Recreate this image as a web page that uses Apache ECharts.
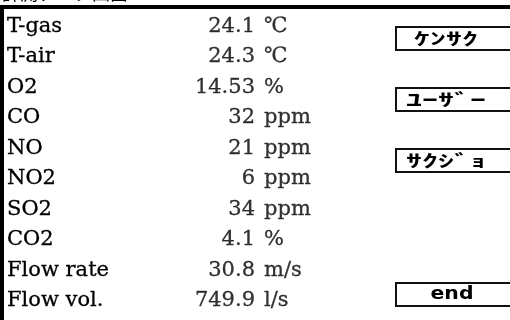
<!DOCTYPE html>
<html>
<head>
<meta charset="utf-8">
<script src="https://cdn.jsdelivr.net/npm/echarts@6/dist/echarts.min.js"></script>
<style>html,body{margin:0;padding:0;background:#fff;}#c{width:510px;height:320px;}</style>
</head>
<body>
<div id="c"></div>
<script>
const title = '計測データ画面';
const labels = ['T-gas','T-air','O2','CO','NO','NO2','SO2','CO2','Flow rate','Flow vol.'];
const values = [24.1, 24.3, 14.53, 32, 21, 6, 34, 4.1, 30.8, 749.9];
const units = ['℃','℃','%','ppm','ppm','ppm','ppm','%','m/s','l/s'];
const buttons = ['ｹﾝｻｸ','ﾕｰｻﾞｰ','ｻｸｼﾞｮ','end'];
const buttonY = [27, 88, 149, 283];

const serif = 'DejaVu Serif';
const chart = echarts.init(document.getElementById('c'));

const graphics = [
  {type:'text', left:2, top:-16, style:{text:title, font:'18px "Noto Sans CJK JP"', fill:'#000'}},
  {type:'rect', shape:{x:0, y:5, width:510, height:4}, style:{fill:'#000'}},
  {type:'rect', shape:{x:0, y:5, width:4, height:320}, style:{fill:'#000'}}
];
buttons.forEach((b,i)=>{
  graphics.push({type:'rect', shape:{x:396, y:buttonY[i], width:130, height:23}, style:{fill:'#fff', stroke:'#111', lineWidth:2}});
  if (i === 3) {
    graphics.push({type:'text', x:452, y:buttonY[i]+12, scaleX:1.2, style:{text:b, align:'center', verticalAlign:'middle',
      font:'bold 17px "DejaVu Sans"', fill:'#000'}});
  } else {
    graphics.push({type:'text', x:446, y:buttonY[i]+12, scaleY:0.52, style:{text:b, align:'center', verticalAlign:'middle',
      font:'bold 32px "Noto Sans CJK JP"', fill:'#000'}});
  }
});

const txt = {fontFamily:serif, fontSize:21, color:'#000', textBorderColor:'#000', textBorderWidth:0.3};

chart.setOption({
  animation:false,
  grid:{left:255, right:246, top:11, bottom:4},
  xAxis:{type:'category', data:['value','unit'], boundaryGap:false, show:false},
  yAxis:{type:'category', data:labels, inverse:true,
    axisLine:{show:false}, axisTick:{show:false}, splitLine:{show:false},
    axisLabel:Object.assign({align:'left', margin:248}, txt)},
  series:[
    {type:'scatter', symbolSize:0, silent:true,
      data:labels.map((l,i)=>['value', l]),
      label:Object.assign({show:true, position:'left', distance:0,
        formatter:p=>String(values[p.dataIndex])}, txt)},
    {type:'scatter', symbolSize:0, silent:true,
      data:labels.map((l,i)=>['unit', l]),
      label:Object.assign({show:true, position:'right', distance:0,
        formatter:p=>units[p.dataIndex]}, txt)}
  ],
  graphic:graphics
});
</script>
</body>
</html>
